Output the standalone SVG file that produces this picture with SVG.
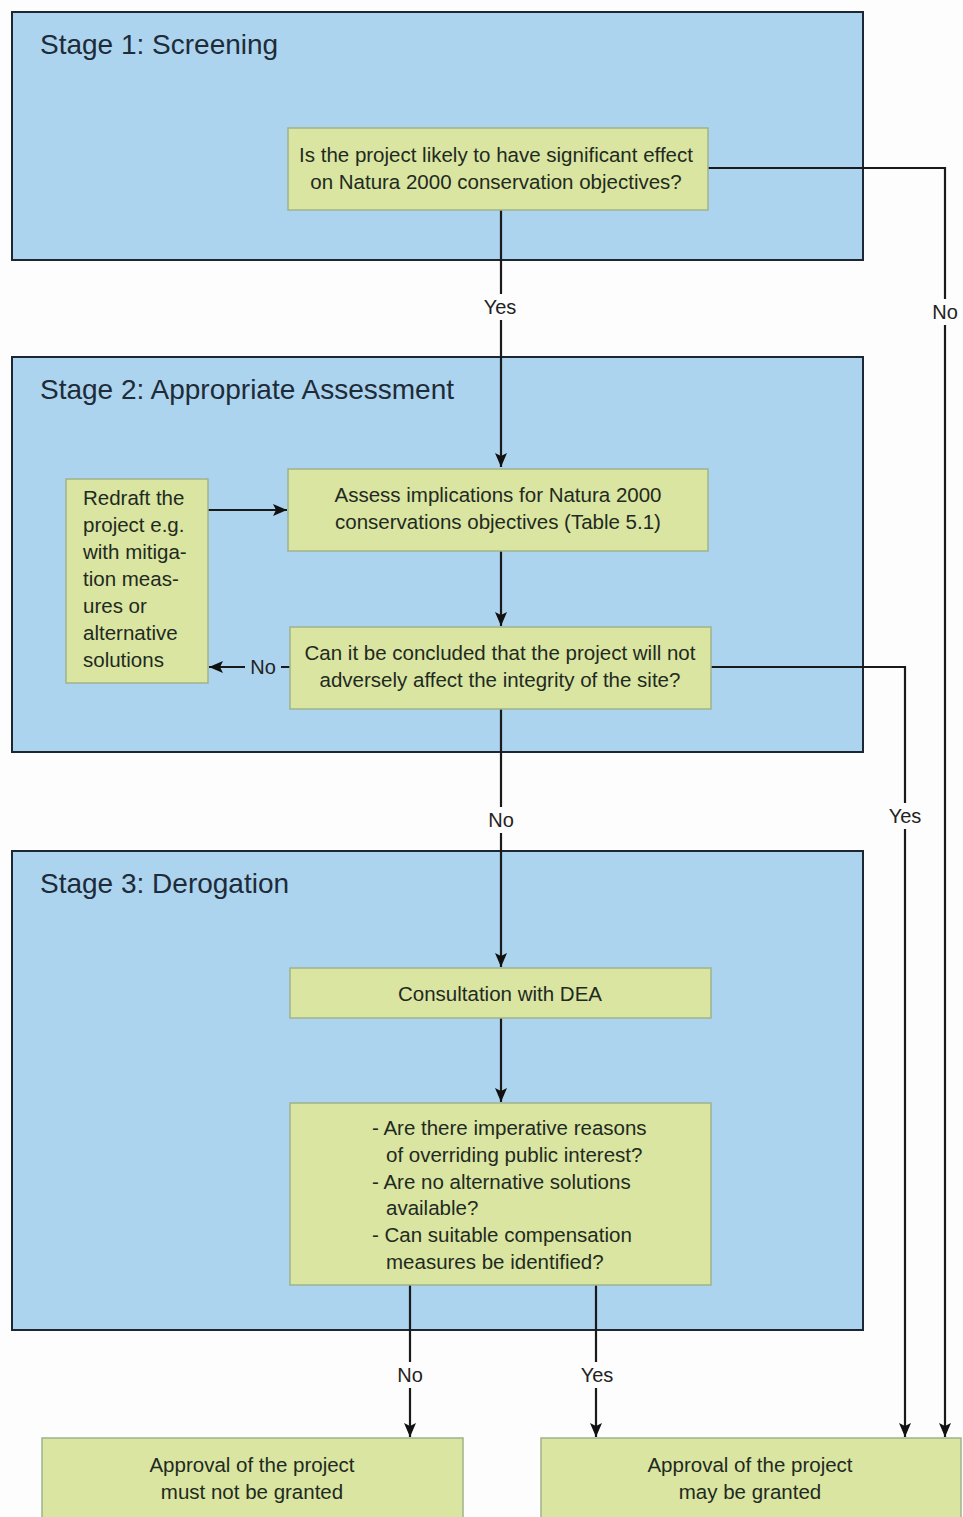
<svg xmlns="http://www.w3.org/2000/svg" width="963" height="1517" viewBox="0 0 963 1517">
<defs>
<marker id="ah" viewBox="0 0 14 12" refX="14" refY="6" markerWidth="14" markerHeight="12" markerUnits="userSpaceOnUse" orient="auto">
<path d="M0,0 L14,6 L0,12 L3,6 z" fill="#111"/>
</marker>
<style>
.stage{fill:#acd4ee;stroke:#1c2733;stroke-width:2}
.node{fill:#d9e5a0;stroke:#9fb28c;stroke-width:1.5}
.title{font-family:"Liberation Sans",Arial,sans-serif;font-size:28px;fill:#1e2b38}
.t{font-family:"Liberation Sans",Arial,sans-serif;font-size:20.5px;fill:#1f2a22}
.lbl{font-family:"Liberation Sans",Arial,sans-serif;font-size:20px;fill:#222;text-anchor:middle}
.c{fill:none;stroke:#1a1a1a;stroke-width:2}
.ca{fill:none;stroke:#1a1a1a;stroke-width:2.2;marker-end:url(#ah)}
.lb{fill:#fdfdfd}
</style>
</defs>
<rect width="963" height="1517" fill="#fdfdfd"/>

<g id="stage1">
<rect class="stage" x="12" y="12" width="851" height="248"/>
<text class="title" x="40" y="54">Stage 1: Screening</text>
</g>
<g id="stage2">
<rect class="stage" x="12" y="357" width="851" height="395"/>
<text class="title" x="40" y="399">Stage 2: Appropriate Assessment</text>
</g>
<g id="stage3">
<rect class="stage" x="12" y="851" width="851" height="479"/>
<text class="title" x="40" y="893">Stage 3: Derogation</text>
</g>

<g id="connectors">
<line class="ca" x1="501" y1="210" x2="501" y2="467"/>
<polyline class="ca" points="708,168 945,168 945,1437"/>
<line class="ca" x1="208" y1="510" x2="287" y2="510"/>
<line class="ca" x1="501" y1="551" x2="501" y2="626"/>
<line class="ca" x1="290" y1="667" x2="209" y2="667"/>
<polyline class="ca" points="711,667 905,667 905,1437"/>
<line class="ca" x1="501" y1="709" x2="501" y2="967"/>
<line class="ca" x1="501" y1="1018" x2="501" y2="1102"/>
<line class="ca" x1="410" y1="1285" x2="410" y2="1437"/>
<line class="ca" x1="596" y1="1285" x2="596" y2="1437"/>
<rect class="lb" x="481" y="294" width="40" height="26"/>
<text class="lbl" x="500" y="314">Yes</text>
<rect class="lb" x="929" y="299" width="32" height="26"/>
<text class="lbl" x="945" y="319">No</text>
<rect x="245" y="655" width="36" height="24" fill="#acd4ee"/>
<text class="lbl" x="263" y="674">No</text>
<rect class="lb" x="885" y="803" width="40" height="26"/>
<text class="lbl" x="905" y="823">Yes</text>
<rect class="lb" x="485" y="807" width="32" height="26"/>
<text class="lbl" x="501" y="827">No</text>
<rect class="lb" x="394" y="1362" width="32" height="26"/>
<text class="lbl" x="410" y="1382">No</text>
<rect class="lb" x="576" y="1362" width="40" height="26"/>
<text class="lbl" x="597" y="1382">Yes</text>
</g>

<g id="q1">
<rect class="node" x="288" y="128" width="420" height="82"/>
<text class="t" x="496" y="162" text-anchor="middle">Is the project likely to have significant effect</text>
<text class="t" x="496" y="189" text-anchor="middle">on Natura 2000 conservation objectives?</text>
</g>
<g id="assess">
<rect class="node" x="288" y="469" width="420" height="82"/>
<text class="t" x="498" y="502" text-anchor="middle">Assess implications for Natura 2000</text>
<text class="t" x="498" y="529" text-anchor="middle">conservations objectives (Table 5.1)</text>
</g>
<g id="redraft">
<rect class="node" x="66" y="479" width="142" height="204"/>
<text class="t" x="83" y="505">Redraft the</text>
<text class="t" x="83" y="532">project e.g.</text>
<text class="t" x="83" y="559">with mitiga-</text>
<text class="t" x="83" y="586">tion meas-</text>
<text class="t" x="83" y="613">ures or</text>
<text class="t" x="83" y="640">alternative</text>
<text class="t" x="83" y="667">solutions</text>
</g>
<g id="q2">
<rect class="node" x="290" y="627" width="421" height="82"/>
<text class="t" x="500" y="660" text-anchor="middle">Can it be concluded that the project will not</text>
<text class="t" x="500" y="687" text-anchor="middle">adversely affect the integrity of the site?</text>
</g>
<g id="consult">
<rect class="node" x="290" y="968" width="421" height="50"/>
<text class="t" x="500" y="1001" text-anchor="middle">Consultation with DEA</text>
</g>
<g id="q3">
<rect class="node" x="290" y="1103" width="421" height="182"/>
<text class="t" x="372" y="1135">- Are there imperative reasons</text>
<text class="t" x="386" y="1162">of overriding public interest?</text>
<text class="t" x="372" y="1189">- Are no alternative solutions</text>
<text class="t" x="386" y="1215">available?</text>
<text class="t" x="372" y="1242">- Can suitable compensation</text>
<text class="t" x="386" y="1269">measures be identified?</text>
</g>
<g id="notgranted">
<rect class="node" x="42" y="1438" width="421" height="90"/>
<text class="t" x="252" y="1472" text-anchor="middle">Approval of the project</text>
<text class="t" x="252" y="1499" text-anchor="middle">must not be granted</text>
</g>
<g id="granted">
<rect class="node" x="541" y="1438" width="420" height="90"/>
<text class="t" x="750" y="1472" text-anchor="middle">Approval of the project</text>
<text class="t" x="750" y="1499" text-anchor="middle">may be granted</text>
</g>
</svg>
